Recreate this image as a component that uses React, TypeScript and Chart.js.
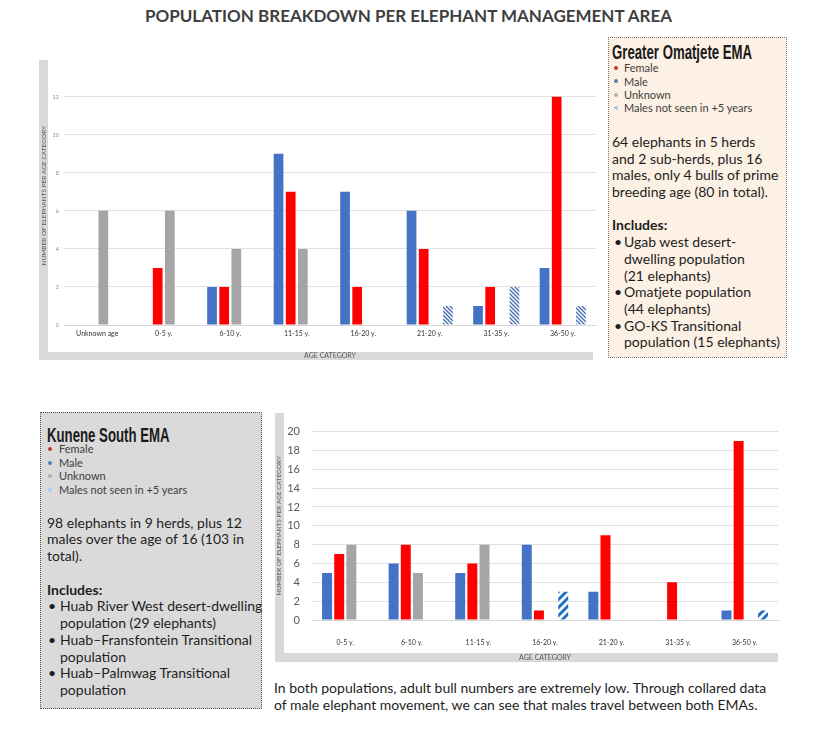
import React, { useEffect, useRef } from "react";
import { Chart, registerables } from "chart.js";

Chart.register(...registerables);

// ---------- DATA ----------
const omatjeteCategories = ["Unknown age", "0-5 y.", "6-10 y.", "11-15 y.", "16-20 y.", "21-20 y.", "31-35 y.", "36-50 y."];
const omatjeteMale = [0, 0, 2, 9, 7, 6, 1, 3];
const omatjeteFemale = [0, 3, 2, 7, 2, 4, 2, 12];
const omatjeteUnknown = [6, 6, 4, 4, 0, 0, 0, 0];
const omatjeteNotSeen = [0, 0, 0, 0, 0, 1, 2, 1];

const kuneneCategories = ["0-5 y.", "6-10 y.", "11-15 y.", "16-20 y.", "21-20 y.", "31-35 y.", "36-50 y."];
const kuneneMale = [5, 6, 5, 8, 3, 0, 1];
const kuneneFemale = [7, 8, 6, 1, 9, 4, 19];
const kuneneUnknown = [8, 5, 8, 0, 0, 0, 0];
const kuneneNotSeen = [0, 0, 0, 3, 0, 0, 1];

const seriesNames = ["Male", "Female", "Unknown", "Males not seen in +5 years"];
const legendNames = ["Female", "Male", "Unknown", "Males not seen in +5 years"];

const yAxisTitle = "NUMBER OF ELEPHANTS PER AGE CATEGORY";
const xAxisTitle = "AGE CATEGORY";

// ---------- helpers ----------
function makeHatch(size: number, lineWidth: number, color: string, dir: "fwd" | "back") {
  const c = document.createElement("canvas");
  c.width = size;
  c.height = size;
  const ctx = c.getContext("2d")!;
  ctx.fillStyle = "#ffffff";
  ctx.fillRect(0, 0, size, size);
  ctx.strokeStyle = color;
  ctx.lineWidth = lineWidth;
  ctx.beginPath();
  if (dir === "fwd") {
    for (const k of [0, 1, 2]) {
      const cc = k * size;
      ctx.moveTo(cc + 1, -1);
      ctx.lineTo(-1, cc + 1);
    }
  } else {
    for (const k of [-1, 0, 1]) {
      const cc = k * size;
      ctx.moveTo(-1, cc - 1);
      ctx.lineTo(size + 1, cc + size + 1);
    }
  }
  ctx.stroke();
  return ctx.createPattern(c, "repeat")!;
}

const FONT = "Lato";

function buildConfig(opts: {
  categories: string[];
  male: number[];
  female: number[];
  unknown: number[];
  notSeen: number[];
  hatch: CanvasPattern;
  yMax: number;
  yLimit: number;
  yTickFont: number;
  yTickColor: string;
  yTickPad: number;
  yWidth: number;
  xHeight: number;
  xTickPad: number;
  padTop: number;
  padRight: number;
  catPct: number;
  barPct: number;
}): any {
  return {
    type: "bar",
    data: {
      labels: opts.categories,
      datasets: [
        { label: seriesNames[0], data: opts.male, backgroundColor: "#4472c4" },
        { label: seriesNames[1], data: opts.female, backgroundColor: "#ff0000" },
        { label: seriesNames[2], data: opts.unknown, backgroundColor: "#a5a5a5" },
        { label: seriesNames[3], data: opts.notSeen, backgroundColor: opts.hatch },
      ],
    },
    options: {
      responsive: false,
      animation: false,
      layout: { padding: { top: opts.padTop, right: opts.padRight, left: 0, bottom: 0 } },
      datasets: { bar: { categoryPercentage: opts.catPct, barPercentage: opts.barPct } },
      plugins: { legend: { display: false }, tooltip: { enabled: false } },
      scales: {
        x: {
          grid: { display: false, drawTicks: false },
          border: { display: true, color: "#d9d9d9" },
          ticks: {
            font: { family: FONT, size: 7 },
            color: "#333333",
            padding: opts.xTickPad,
            maxRotation: 0,
            autoSkip: false,
          },
          title: {
            display: true,
            text: xAxisTitle,
            font: { family: FONT, size: 7 },
            color: "#595959",
            padding: { top: 0, bottom: 2 },
          },
          afterFit: (s: any) => {
            s.height = opts.xHeight;
          },
        },
        y: {
          min: 0,
          max: opts.yMax,
          afterBuildTicks: (axis: any) => {
            axis.ticks = axis.ticks.filter((t: any) => t.value <= opts.yLimit);
          },
          ticks: {
            stepSize: 2,
            font: { family: FONT, size: opts.yTickFont },
            color: opts.yTickColor,
            padding: opts.yTickPad,
          },
          grid: { color: "#e0e0e0", drawTicks: false },
          border: { display: false },
          title: {
            display: true,
            text: yAxisTitle,
            font: { family: FONT, size: 6.5 },
            color: "#595959",
            padding: { top: 2, bottom: 0 },
          },
          afterFit: (s: any) => {
            s.width = opts.yWidth;
          },
        },
      },
    },
  };
}

function CanvasChart(props: { left: number; top: number; width: number; height: number; make: () => any }) {
  const ref = useRef<HTMLCanvasElement>(null);
  useEffect(() => {
    const chart = new Chart(ref.current!, props.make());
    return () => chart.destroy();
  }, []);
  return (
    <canvas
      ref={ref}
      width={props.width}
      height={props.height}
      style={{ position: "absolute", left: props.left, top: props.top, width: props.width, height: props.height }}
    />
  );
}

const STRIP = "#d9d9d9";

function Strip(p: { left: number; top: number; width: number; height: number }) {
  return <div style={{ position: "absolute", background: STRIP, left: p.left, top: p.top, width: p.width, height: p.height }} />;
}

const dotColors = ["#c0392b", "#4f81bd", "#b0b0b0"];

function LegendList(p: { top: number; dotX: number; textX: number; lh: number }) {
  return (
    <div style={{ position: "absolute", top: p.top, left: 0, right: 0, fontFamily: FONT, fontSize: 11, color: "#404040", lineHeight: `${p.lh}px` }}>
      {legendNames.map((n, i) => (
        <div key={n} style={{ position: "relative", height: p.lh, whiteSpace: "nowrap" }}>
          <span
            style={{
              position: "absolute",
              left: p.dotX - 2,
              top: p.lh / 2 - 2,
              width: 4,
              height: 4,
              borderRadius: "50%",
              background:
                i < 3 ? dotColors[i] : "repeating-linear-gradient(45deg, #7fb0e0 0px, #7fb0e0 1px, #ffffff 1px, #ffffff 2px)",
            }}
          />
          <span style={{ position: "absolute", left: p.textX }}>{n}</span>
        </div>
      ))}
    </div>
  );
}

type Line = { text: string; bold?: boolean; bullet?: boolean; indent?: boolean };

function TextLines(p: { top: number; lh: number; textX: number; bulletX: number; bulletTextX: number; lines: Line[] }) {
  return (
    <div style={{ position: "absolute", top: p.top, left: 0, right: 0, fontFamily: FONT, fontSize: 14, color: "#1e1e1e", lineHeight: `${p.lh}px` }}>
      {p.lines.map((l, i) => (
        <div key={i} style={{ position: "relative", height: p.lh, whiteSpace: "nowrap", fontWeight: l.bold ? 700 : 400 }}>
          {l.bullet && <span style={{ position: "absolute", left: p.bulletX }}>•</span>}
          <span style={{ position: "absolute", left: l.bullet || l.indent ? p.bulletTextX : p.textX }}>{l.text}</span>
        </div>
      ))}
    </div>
  );
}

const omatjeteText: Line[] = [
  { text: "64 elephants in 5 herds" },
  { text: "and 2 sub-herds, plus 16" },
  { text: "males, only 4 bulls of prime" },
  { text: "breeding age (80 in total)." },
  { text: "" },
  { text: "Includes:", bold: true },
  { text: "Ugab west desert-", bullet: true },
  { text: "dwelling population", indent: true },
  { text: "(21 elephants)", indent: true },
  { text: "Omatjete population", bullet: true },
  { text: "(44 elephants)", indent: true },
  { text: "GO-KS Transitional", bullet: true },
  { text: "population (15 elephants)", indent: true },
];

const kuneneText: Line[] = [
  { text: "98 elephants in 9 herds, plus 12" },
  { text: "males over the age of 16 (103 in" },
  { text: "total)." },
  { text: "" },
  { text: "Includes:", bold: true },
  { text: "Huab River West desert-dwelling", bullet: true },
  { text: "population (29 elephants)", indent: true },
  { text: "Huab\u2013Fransfontein Transitional", bullet: true },
  { text: "population", indent: true },
  { text: "Huab\u2013Palmwag Transitional", bullet: true },
  { text: "population", indent: true },
];

const boxTitleStyle: React.CSSProperties = {
  position: "absolute",
  fontFamily: '"Liberation Sans", Arial, sans-serif',
  fontWeight: 700,
  fontSize: 20,
  lineHeight: "20px",
  color: "#1a1a1a",
  whiteSpace: "nowrap",
  transform: "scaleX(0.66)",
  transformOrigin: "0 50%",
};

export default function App() {
  const makeTop = () =>
    buildConfig({
      categories: omatjeteCategories,
      male: omatjeteMale,
      female: omatjeteFemale,
      unknown: omatjeteUnknown,
      notSeen: omatjeteNotSeen,
      hatch: makeHatch(4, 1.4, "#4a6fb5", "back"),
      yMax: 13.6,
      yLimit: 12,
      yTickFont: 5.5,
      yTickColor: "#8c8c8c",
      yTickPad: 5,
      yWidth: 26,
      xHeight: 37,
      xTickPad: 5,
      padTop: 5,
      padRight: 4,
      catPct: 0.73,
      barPct: 0.8,
    });
  const makeBottom = () =>
    buildConfig({
      categories: kuneneCategories,
      male: kuneneMale,
      female: kuneneFemale,
      unknown: kuneneUnknown,
      notSeen: kuneneNotSeen,
      hatch: makeHatch(8, 3, "#1f6fc2", "fwd"),
      yMax: 20,
      yLimit: 20,
      yTickFont: 11,
      yTickColor: "#595959",
      yTickPad: 12,
      yWidth: 39,
      xHeight: 44,
      xTickPad: 19,
      padTop: 14,
      padRight: 4,
      catPct: 0.73,
      barPct: 0.82,
    });

  return (
    <div style={{ position: "absolute", left: 0, top: 0, width: 817, height: 739, background: "#ffffff", overflow: "hidden" }}>
      <div
        style={{
          position: "absolute",
          left: 0,
          top: 6,
          width: 817,
          textAlign: "center",
          fontFamily: FONT,
          fontWeight: 700,
          fontSize: 17,
          lineHeight: "20px",
          color: "#404040",
          whiteSpace: "nowrap",
        }}
      >
        POPULATION BREAKDOWN PER ELEPHANT MANAGEMENT AREA
      </div>

      {/* Top chart panel */}
      <Strip left={39} top={60} width={9} height={300} />
      <Strip left={39} top={352} width={554} height={8} />
      <CanvasChart left={38} top={58} width={562} height={304} make={makeTop} />

      {/* Greater Omatjete box */}
      <div
        style={{
          position: "absolute",
          left: 608,
          top: 37,
          width: 177,
          height: 319,
          border: "1px dotted #7a7a7a",
          background: "#fdf0e4",
        }}
      >
        <div style={{ ...boxTitleStyle, left: 3, top: 4 }}>Greater Omatjete EMA</div>
        <LegendList top={23.3} dotX={7} textX={15} lh={13.4} />
        <TextLines top={96} lh={16.7} textX={3} bulletX={5} bulletTextX={15} lines={omatjeteText} />
      </div>

      {/* Kunene box */}
      <div
        style={{
          position: "absolute",
          left: 40,
          top: 412,
          width: 220,
          height: 295,
          border: "1px dotted #555555",
          background: "#dadada",
        }}
      >
        <div style={{ ...boxTitleStyle, left: 6, top: 12 }}>Kunene South EMA</div>
        <LegendList top={29.3} dotX={9} textX={18} lh={13.6} />
        <TextLines top={101.6} lh={16.75} textX={6} bulletX={7} bulletTextX={19} lines={kuneneText} />
      </div>

      {/* Bottom chart panel */}
      <Strip left={275} top={413} width={9} height={249} />
      <Strip left={275} top={653} width={503} height={9} />
      <CanvasChart left={273} top={413} width={509} height={251} make={makeBottom} />

      {/* Footnote */}
      <div
        style={{
          position: "absolute",
          left: 274,
          top: 678.5,
          fontFamily: FONT,
          fontSize: 14,
          lineHeight: "17px",
          color: "#1e1e1e",
          whiteSpace: "nowrap",
        }}
      >
        In both populations, adult bull numbers are extremely low. Through collared data
        <br />
        of male elephant movement, we can see that males travel between both EMAs.
      </div>
    </div>
  );
}
